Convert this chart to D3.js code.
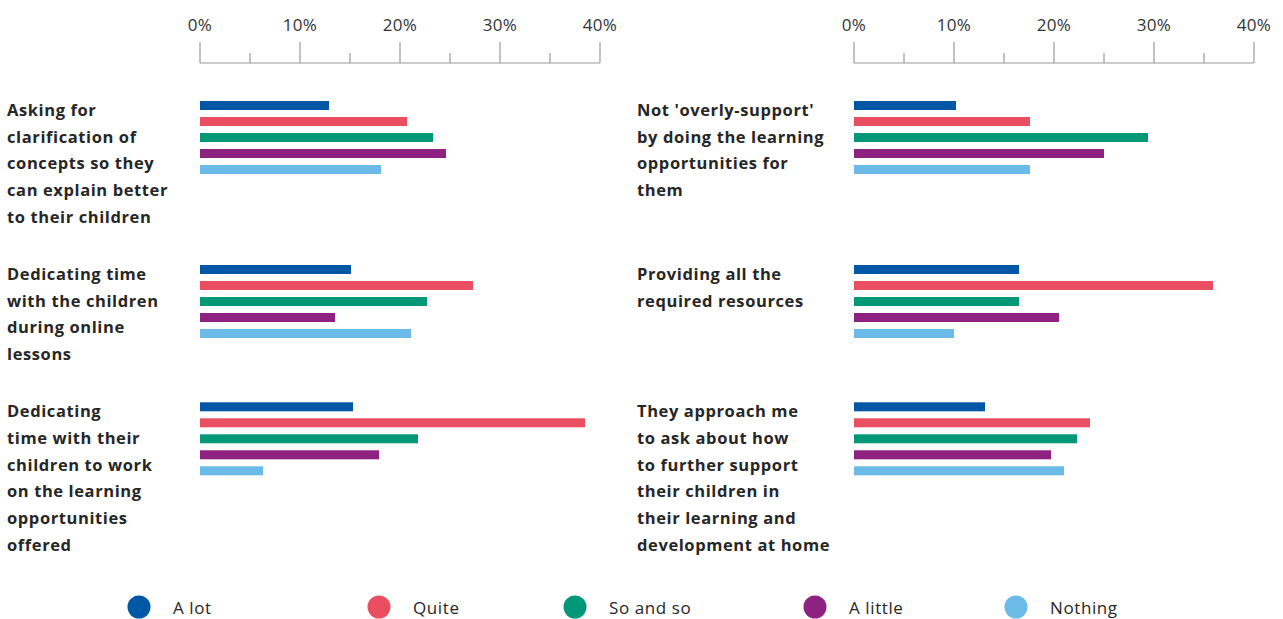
<!DOCTYPE html>
<html>
<head>
<meta charset="utf-8">
<script src="https://cdn.jsdelivr.net/npm/d3@7"></script>
<style>
  html, body { margin: 0; padding: 0; background: #fff; }
  svg { display: block; }
  text { font-family: "Open Sans", sans-serif; fill: #262626; }
</style>
</head>
<body>
<svg id="chart" width="1283" height="619"></svg>
<script>
// Response options (series) and their colours
const series = ["A lot", "Quite", "So and so", "A little", "Nothing"];
const seriesColors = ["#0057a5", "#ea4e61", "#009877", "#8e2280", "#6bbae8"];

// Left column statements and values (%)
const leftLabels = [
  ["Asking for", "clarification of", "concepts so they", "can explain better", "to their children"],
  ["Dedicating time", "with the children", "during online", "lessons"],
  ["Dedicating", "time with their", "children to work", "on the learning", "opportunities", "offered"]
];
const leftValues = [
  [12.9, 20.7, 23.3, 24.6, 18.1],
  [15.1, 27.3, 22.7, 13.5, 21.1],
  [15.3, 38.5, 21.8, 17.9, 6.3]
];

// Right column statements and values (%)
const rightLabels = [
  ["Not 'overly-support'", "by doing the learning", "opportunities for", "them"],
  ["Providing all the", "required resources"],
  ["They approach me", "to ask about how", "to further support", "their children in", "their learning and", "development at home"]
];
const rightValues = [
  [10.2, 17.6, 29.4, 25.0, 17.6],
  [16.5, 35.9, 16.5, 20.5, 10.0],
  [13.1, 23.6, 22.3, 19.7, 21.0]
];

const tickValues = [0, 5, 10, 15, 20, 25, 30, 35, 40];
const tickLabels = ["0%", "", "10%", "", "20%", "", "30%", "", "40%"];

const svg = d3.select("#chart");
const lineH = 26.7;
const rowGap = 30.5;
const firstRowTop = 101;

// Vertical layout of rows: each row is as tall as its longest statement
const rowTops = [];
let acc = firstRowTop;
for (let i = 0; i < leftLabels.length; i++) {
  rowTops.push(acc);
  const lines = Math.max(leftLabels[i].length, rightLabels[i].length);
  acc += lines * lineH + rowGap;
}

const color = d3.scaleOrdinal().domain(series).range(seriesColors);
const yBar = d3.scaleBand().domain(series).range([0, 73]).paddingInner(7 / 16).paddingOuter(0);

function panel(labelX, x0, x1, labels, values) {
  const x = d3.scaleLinear().domain([0, 40]).range([x0, x1]);
  const g = svg.append("g");

  // Axis at the top
  const axisY = 63;
  const axis = g.append("g").attr("transform", `translate(0,${axisY})`);
  axis.append("line")
    .attr("x1", x(0)).attr("x2", x(40))
    .attr("stroke", "#9a9a9a").attr("stroke-width", 1.2);
  axis.selectAll("line.tick").data(tickValues).join("line")
    .attr("class", "tick")
    .attr("x1", d => x(d)).attr("x2", d => x(d))
    .attr("y1", 0).attr("y2", (d, i) => i % 2 === 0 ? -21 : -10)
    .attr("stroke", "#9a9a9a").attr("stroke-width", 1.2);
  axis.selectAll("text").data(tickValues).join("text")
    .attr("x", d => x(d)).attr("y", -32)
    .attr("text-anchor", "middle")
    .style("font-size", "17px")
    .style("letter-spacing", "0.3px")
    .style("fill", "#333")
    .text((d, i) => tickLabels[i]);

  labels.forEach((lines, i) => {
    const top = rowTops[i];
    const t = g.append("text")
      .attr("x", labelX).attr("y", top + 15)
      .style("font-size", "16.5px").style("font-weight", 700)
      .style("letter-spacing", "0.6px");
    t.selectAll("tspan").data(lines).join("tspan")
      .attr("x", labelX)
      .attr("dy", (d, j) => j === 0 ? 0 : lineH)
      .text(d => d);

    g.append("g").attr("transform", `translate(0,${top})`)
      .selectAll("rect").data(values[i]).join("rect")
      .attr("x", x(0))
      .attr("y", (d, j) => yBar(series[j]))
      .attr("width", d => x(d) - x(0))
      .attr("height", yBar.bandwidth())
      .attr("fill", (d, j) => color(series[j]));
  });
}

panel(7, 200, 600, leftLabels, leftValues);
panel(637, 854, 1254, rightLabels, rightValues);

// Legend
const legendXs = [139, 379, 575, 815, 1016];
const leg = svg.append("g").attr("transform", "translate(0,607)");
const item = leg.selectAll("g").data(series).join("g")
  .attr("transform", (d, i) => `translate(${legendXs[i]},0)`);
item.append("circle").attr("r", 11.5).attr("fill", d => color(d));
item.append("text").attr("x", 34).attr("y", 7)
  .style("font-size", "17px").style("letter-spacing", "0.6px").text(d => d);
</script>
</body>
</html>
